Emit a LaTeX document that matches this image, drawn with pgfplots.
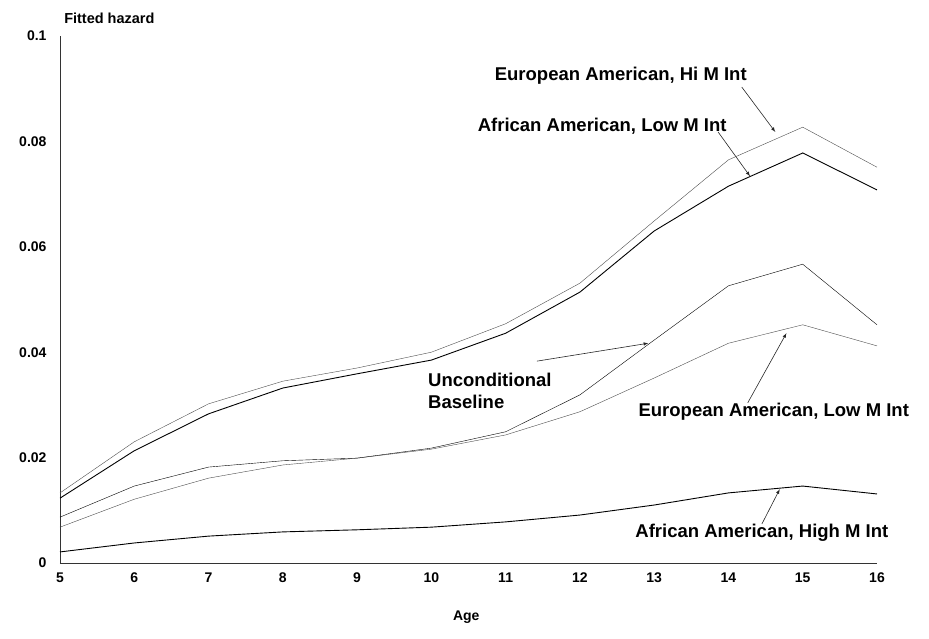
\documentclass[border=0pt]{standalone}
\usepackage{fontspec}
\setmainfont{Liberation Sans}
\usepackage{pgfplots}
\pgfplotsset{compat=1.18}
\begin{document}
\begin{tikzpicture}
\begin{axis}[
    scale only axis,
    width=817bp, height=527bp,
    xmin=5, xmax=16, ymin=0, ymax=0.1,
    axis lines=left,
    axis line style={-, black!80, line width=0.9bp},
    xtick={5,...,16},
    ytick={0,0.02,0.04,0.06,0.08,0.1},
    yticklabels={0,0.02,0.04,0.06,0.08,0.1},
    major tick length=0pt,
    tick style={draw=none},
    ticklabel style={font=\fontsize{14bp}{16bp}\selectfont\bfseries},
    /pgf/number format/assume math mode=true,
    xticklabel style={yshift=-6bp},
    yticklabel style={xshift=-10bp},
    clip=false,
    cycle list={{black!70, line width=0.9bp, mark=none}},
]
% European American, Hi M Int
\addplot coordinates {(5,0.0133) (6,0.0230) (7,0.0302) (8,0.0345) (9,0.0370) (10,0.0400) (11,0.0454) (12,0.0531) (13,0.0649) (14,0.0765) (15,0.0827) (16,0.0751)};
% African American, Low M Int
\addplot coordinates {(5,0.0123) (6,0.0213) (7,0.0283) (8,0.0332) (9,0.0359) (10,0.0385) (11,0.0436) (12,0.0514) (13,0.0630) (14,0.0715) (15,0.0778) (16,0.0708)};
% Unconditional baseline
\addplot coordinates {(5,0.0087) (6,0.0146) (7,0.0182) (8,0.0194) (9,0.0199) (10,0.0218) (11,0.0249) (12,0.0319) (13,0.0423) (14,0.0526) (15,0.0567) (16,0.0452)};
% European American, Low M Int
\addplot coordinates {(5,0.0068) (6,0.0121) (7,0.0161) (8,0.0186) (9,0.0199) (10,0.0216) (11,0.0243) (12,0.0287) (13,0.0351) (14,0.0417) (15,0.0452) (16,0.0412)};
% African American, High M Int
\addplot coordinates {(5,0.0021) (6,0.0038) (7,0.0051) (8,0.0059) (9,0.0063) (10,0.0068) (11,0.0078) (12,0.0091) (13,0.0110) (14,0.0133) (15,0.0146) (16,0.0131)};

\begin{scope}[every node/.style={font=\fontsize{18.5bp}{22bp}\selectfont\bfseries}]
\node at (axis cs:12.55,0.0925) {European American, Hi M Int};
\node at (axis cs:12.30,0.0829) {African American, Low M Int};
\node[anchor=west, align=left] at (axis cs:9.91,0.0326) {Unconditional\\Baseline};
\node at (axis cs:14.61,0.0287) {European American, Low M Int};
\node at (axis cs:14.45,0.0057) {African American, High M Int};
\end{scope}
\begin{scope}[-latex, black!85, line width=0.6bp]
\draw (axis cs:14.18,0.0903) -- (axis cs:14.63,0.0818);
\draw (axis cs:13.86,0.0818) -- (axis cs:14.29,0.0734);
\draw (axis cs:11.42,0.0383) -- (axis cs:12.92,0.0417);
\draw (axis cs:14.26,0.0304) -- (axis cs:14.78,0.0436);
\draw (axis cs:14.45,0.0074) -- (axis cs:14.69,0.0140);
\end{scope}
\node[anchor=west, font=\fontsize{14.5bp}{16bp}\selectfont\bfseries] at (axis cs:5.01,0.1033) {Fitted hazard};
\node[font=\fontsize{14bp}{16bp}\selectfont\bfseries] at (axis cs:10.47,-0.0102) {Age};
\end{axis}
\pgfresetboundingbox
\path[use as bounding box] (-60bp,-76bp) rectangle (869bp,563bp);
\end{tikzpicture}
\end{document}
